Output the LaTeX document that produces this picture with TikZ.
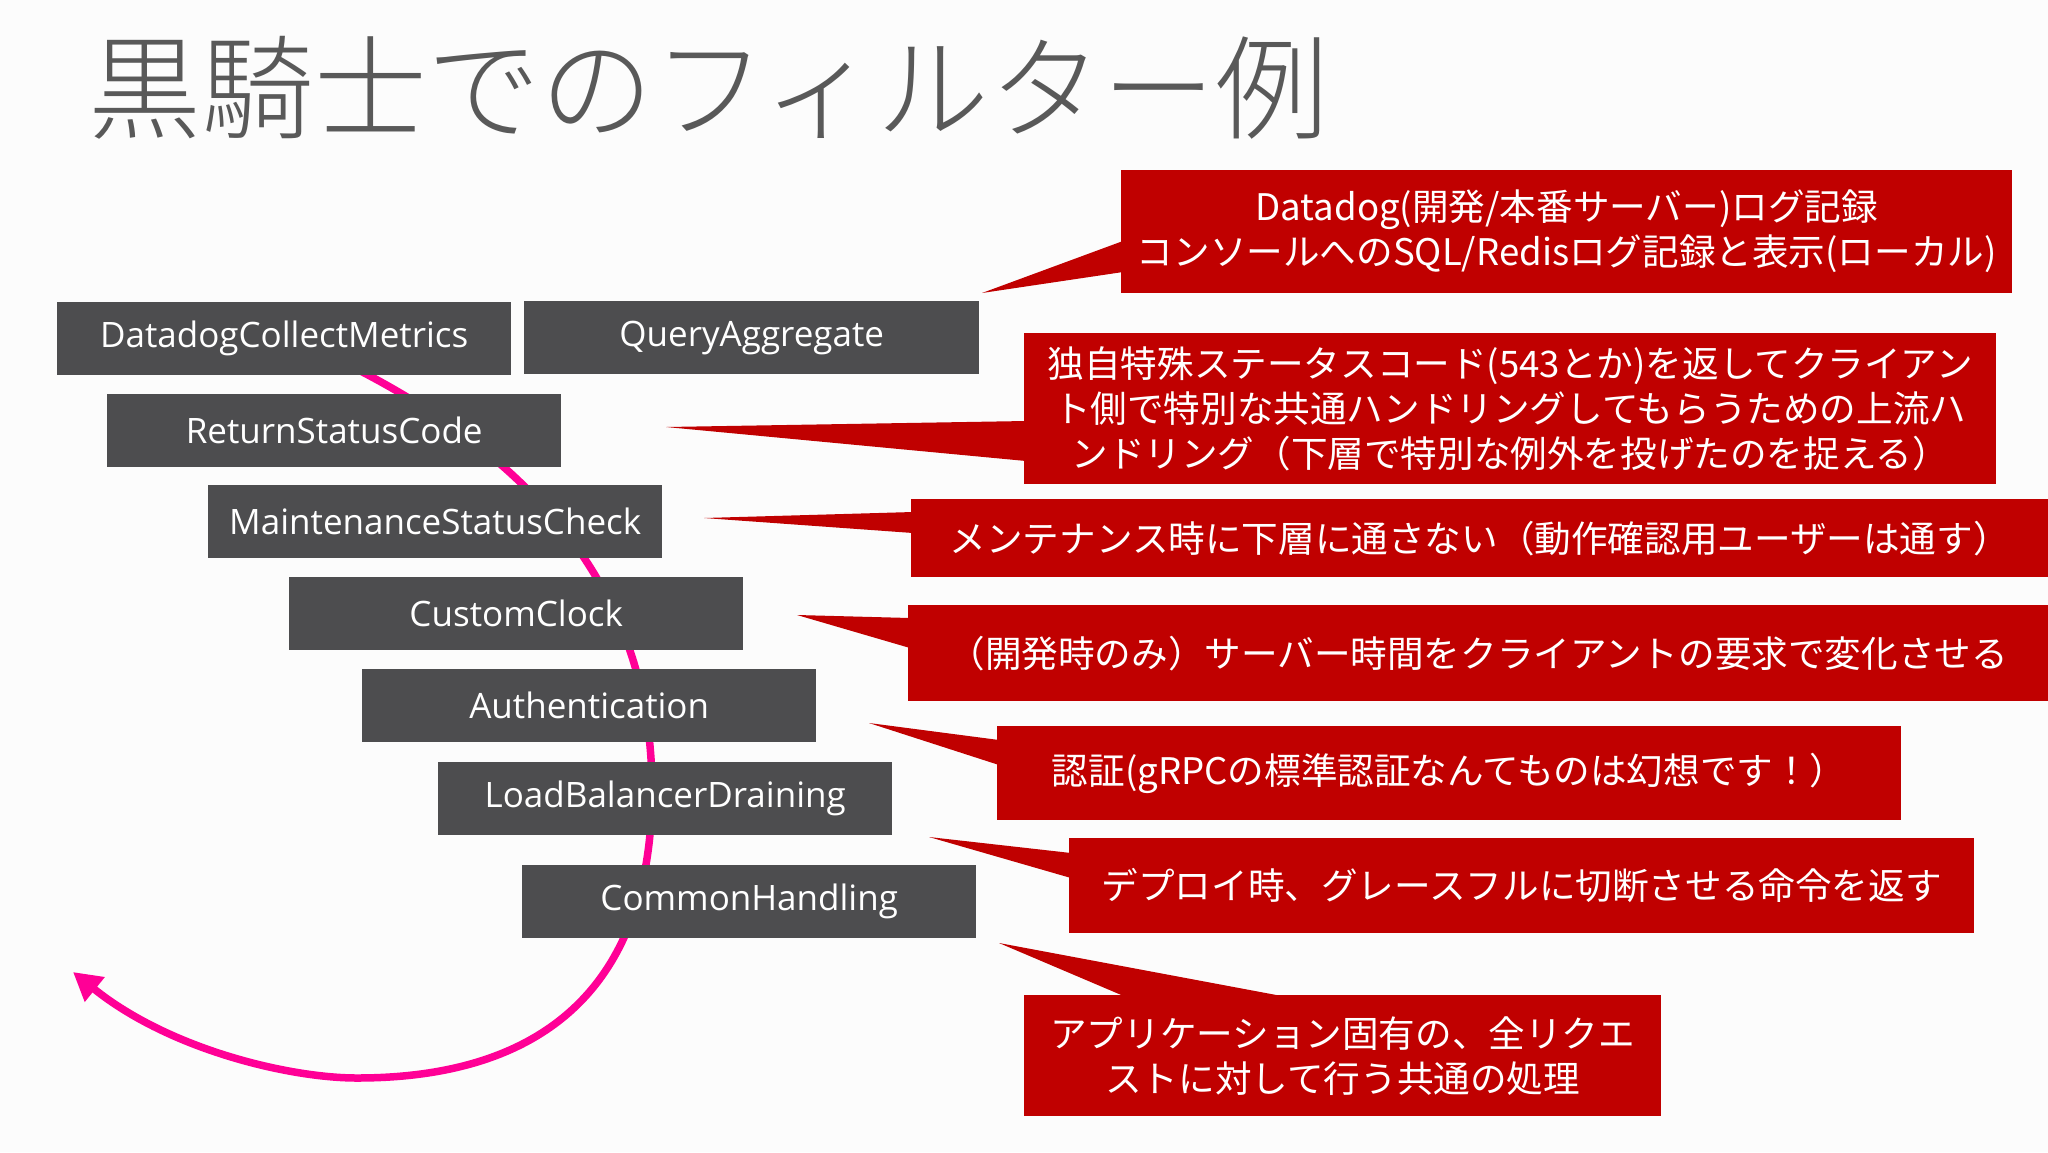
\documentclass[tikz,border=0pt]{standalone}
\usepackage{fontspec}
\setmainfont{Open Sans}
\newfontfamily\jp{Noto Sans CJK JP}
\IfFontExistsTF{Noto Sans CJK JP Light}
  {\newfontfamily\jptitle{Noto Sans CJK JP Light}}
  {\IfFontExistsTF{Noto Sans CJK JP DemiLight}
     {\newfontfamily\jptitle{Noto Sans CJK JP DemiLight}}
     {\newfontfamily\jptitle{Noto Sans CJK JP}}}
\usetikzlibrary{arrows.meta,calc}
\definecolor{bg}{RGB}{252,252,252}
\definecolor{boxgray}{RGB}{77,77,79}
\definecolor{calred}{RGB}{192,0,0}
\definecolor{flowpink}{RGB}{255,0,150}
\definecolor{titlegray}{RGB}{89,89,89}
\begin{document}
\begin{tikzpicture}[x=1pt,y=-1pt,
  filterbox/.style={fill=boxgray, text=white, minimum width=454pt, minimum height=73pt, inner sep=0pt, anchor=north west, font=\fontsize{35}{42}\selectfont},
  callout/.style={fill=calred, text=white, inner sep=0pt, anchor=north west, align=center, font=\jp\fontsize{36.6}{45}\selectfont},
  pointer/.style={fill=calred},
  flow/.style={draw=flowpink, line width=7.5pt, -{Triangle[length=28pt,width=30pt]}}]
\useasboundingbox (0,0) rectangle (2048,1152);
\fill[bg] (0,0) rectangle (2048,1152);

% title
\node[anchor=west, inner sep=0pt, text=titlegray, font=\jptitle\fontsize{113}{120}\selectfont] (title) at (88,88) {黒騎士でのフィルター例};

% flow curve (behind the filter boxes)
\coordinate (fstart) at (300,342);
\coordinate (fmid) at (652,790);
\coordinate (fbot) at (357,1078);
\coordinate (fend) at (73,972);
\draw[flow] (fstart) .. controls (545,450) and (652,600) .. (fmid)
  .. controls (652,975) and (555,1078) .. (fbot)
  .. controls (290,1078) and (170,1050) .. (fend);

% filter boxes
\node[filterbox] (b1) at (57,302) {DatadogCollectMetrics};
\node[filterbox, minimum width=455pt] (b2) at (524,301) {QueryAggregate};
\node[filterbox] (b3) at (107,394) {ReturnStatusCode};
\node[filterbox] (b4) at (208,485) {MaintenanceStatusCheck};
\node[filterbox] (b5) at (289,577) {CustomClock};
\node[filterbox] (b6) at (362,669) {Authentication};
\node[filterbox] (b7) at (438,762) {LoadBalancerDraining};
\node[filterbox] (b8) at (522,865) {CommonHandling};

% callouts
\node[callout, minimum width=891pt, minimum height=123pt] (c1) at (1121,170) {Datadog(開発/本番サーバー)ログ記録\\コンソールへのSQL/Redisログ記録と表示(ローカル)};
\node[callout, minimum width=972pt, minimum height=151pt] (c2) at (1024,333) {独自特殊ステータスコード(543とか)を返してクライアン\\ト側で特別な共通ハンドリングしてもらうための上流ハ\\ンドリング（下層で特別な例外を投げたのを捉える）};
\node[callout, minimum width=1137pt, minimum height=78pt] (c3) at (911,499) {メンテナンス時に下層に通さない（動作確認用ユーザーは通す）};
\node[callout, minimum width=1140pt, minimum height=96pt] (c4) at (908,605) {（開発時のみ）サーバー時間をクライアントの要求で変化させる};
\node[callout, minimum width=904pt, minimum height=94pt] (c5) at (997,726) {認証(gRPCの標準認証なんてものは幻想です！）};
\node[callout, minimum width=905pt, minimum height=95pt] (c6) at (1069,838) {デプロイ時、グレースフルに切断させる命令を返す};
\node[callout, minimum width=637pt, minimum height=121pt] (c7) at (1024,995) {アプリケーション固有の、全リクエ\\ストに対して行う共通の処理};

% pointer tips
\coordinate (t1) at (982,293);
\coordinate (t2) at (666,427);
\coordinate (t3) at (704,518);
\coordinate (t4) at (797,615);
\coordinate (t5) at (869,723);
\coordinate (t6) at (929,837);
\coordinate (t7) at (999,943);

\fill[pointer] ($(c1.north west)+(2,71)$) -- (t1) -- ($(c1.north west)+(2,102)$) -- cycle;
\fill[pointer] ($(c2.north west)+(2,88)$) -- (t2) -- ($(c2.north west)+(2,128)$) -- cycle;
\fill[pointer] ($(c3.north west)+(2,13)$) -- (t3) -- ($(c3.north west)+(2,34)$) -- cycle;
\fill[pointer] ($(c4.north west)+(2,13)$) -- (t4) -- ($(c4.north west)+(2,43)$) -- cycle;
\fill[pointer] ($(c5.north west)+(2,14)$) -- (t5) -- ($(c5.north west)+(2,39)$) -- cycle;
\fill[pointer] ($(c6.north west)+(2,15)$) -- (t6) -- ($(c6.north west)+(2,40)$) -- cycle;
\fill[pointer] ($(c7.north west)+(102,2)$) -- (t7) -- ($(c7.north west)+(263,2)$) -- cycle;
\end{tikzpicture}
\end{document}
